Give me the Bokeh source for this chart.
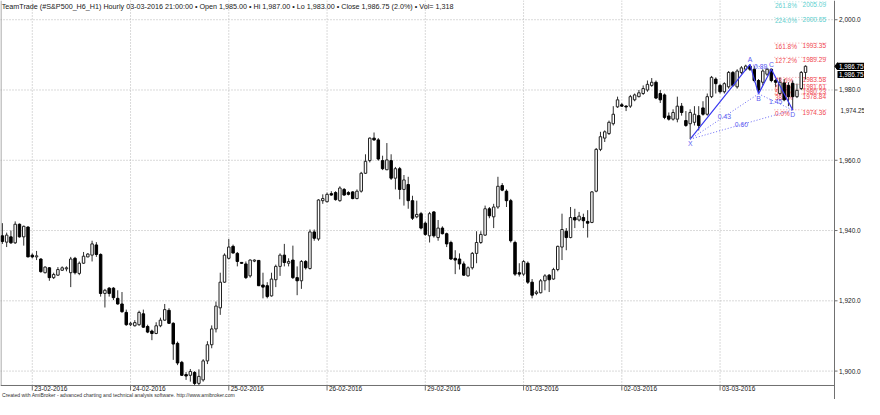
from bokeh.plotting import figure
from bokeh.models import ColumnDataSource, Range1d, Label
from bokeh.embed import file_html
from bokeh.resources import INLINE
from bokeh.core.properties import value

FONT = "Liberation Sans"

opens = [1938.5,1936.7,1938.2,1936.5,1941.8,1938.2,1941.0,1933.0,1932.5,1931.9,
         1928.0,1929.4,1926.6,1927.3,1928.7,1929.1,1928.0,1932.1,1927.8,1930.7,
         1932.5,1933.0,1935.9,1933.2,1922.1,1923.6,1923.6,1920.7,1919.1,1916.7,
         1913.2,1912.9,1913.2,1916.3,1912.7,1911.4,1910.7,1912.9,1914.5,1917.3,
         1913.6,1907.9,1902.5,1899.0,1898.8,1899.6,1896.5,1897.5,1902.9,1907.5,
         1912.0,1918.0,1925.3,1932.1,1935.5,1933.5,1930.9,1930.5,1927.1,1931.3,
         1931.5,1924.5,1924.3,1921.4,1926.0,1929.8,1933.0,1930.7,1931.6,1926.6,
         1925.7,1931.2,1929.2,1939.6,1937.6,1948.5,1948.2,1950.5,1950.8,1948.5,
         1951.7,1950.8,1951.0,1949.1,1951.2,1956.3,1959.9,1966.3,1965.8,1959.9,
         1957.3,1959.9,1954.9,1957.6,1951.7,1953.1,1948.5,1943.9,1944.8,1942.1,
         1938.5,1945.3,1938.0,1940.7,1939.1,1936.6,1932.1,1931.9,1930.5,1927.1,
         1929.4,1933.5,1936.6,1938.7,1946.2,1943.9,1946.7,1952.8,1951.2,1948.5,
         1936.6,1928.0,1927.6,1930.7,1925.3,1922.1,1922.3,1925.7,1927.3,1926.2,
         1928.9,1935.3,1939.8,1938.0,1943.7,1943.0,1943.7,1942.6,1942.3,1951.2,
         1963.1,1966.3,1967.6,1970.4,1975.2,1975.8,1975.4,1975.4,1977.2,1978.1,
         1979.0,1980.0,1981.3,1982.2,1979.0,1978.6,1972.6,1971.7,1971.7,1975.4,
         1971.3,1970.4,1970.8,1972.7,1974.9,1973.1,1978.1,1983.1,1981.3,1979.5,
         1980.9,1985.0,1980.9,1985.0,1985.9,1986.8,1985.9,1982.7,1982.2,1984.5,
         1985.9,1982.7,1979.0,1982.0,1981.3,1981.9,1978.1,1980.4,1985.0]
highs = [1942.1,1939.4,1940.0,1942.6,1942.0,1941.4,1941.2,1933.5,1934.2,1932.1,
         1929.8,1929.6,1928.0,1929.6,1929.8,1929.8,1932.5,1932.5,1931.2,1933.9,
         1933.6,1937.1,1936.7,1933.5,1923.4,1923.9,1923.9,1923.0,1922.5,1917.5,
         1914.0,1914.5,1917.2,1917.5,1913.2,1911.8,1913.9,1915.2,1919.1,1917.9,
         1913.9,1908.4,1902.9,1899.7,1900.6,1900.0,1900.5,1903.4,1908.5,1913.0,
         1919.8,1928.0,1933.5,1937.6,1936.0,1933.9,1931.0,1931.2,1931.8,1931.8,
         1931.6,1928.0,1925.3,1928.0,1930.3,1933.5,1936.2,1932.1,1935.7,1929.8,
         1931.6,1931.6,1940.3,1940.3,1948.9,1950.3,1950.8,1951.2,1951.2,1952.6,
         1952.1,1951.2,1951.2,1951.7,1956.7,1961.7,1966.5,1967.9,1966.3,1961.3,
         1964.9,1961.7,1958.1,1958.1,1955.8,1955.3,1949.9,1948.5,1945.3,1942.6,
         1945.3,1945.5,1943.0,1941.2,1939.4,1937.1,1934.4,1933.5,1931.2,1929.8,
         1933.9,1939.8,1939.8,1947.1,1946.7,1947.6,1955.3,1953.5,1951.7,1949.0,
         1937.1,1930.7,1931.6,1931.2,1926.2,1923.0,1926.2,1927.6,1927.6,1929.4,
         1935.7,1944.8,1940.7,1946.7,1946.2,1945.3,1944.8,1945.8,1951.2,1963.5,
         1968.1,1968.5,1971.3,1975.4,1978.1,1976.3,1975.6,1978.6,1979.0,1980.0,
         1981.3,1982.7,1983.4,1982.7,1980.0,1979.0,1973.6,1974.5,1978.1,1976.3,
         1974.0,1974.5,1975.4,1975.4,1976.8,1979.0,1984.0,1983.6,1981.8,1982.2,
         1985.4,1985.4,1985.9,1986.8,1987.2,1987.3,1986.8,1983.1,1985.9,1986.3,
         1986.1,1983.1,1983.6,1983.1,1982.2,1982.7,1981.8,1985.4,1987.0]
lows = [1936.2,1935.3,1936.2,1936.2,1938.0,1935.7,1932.4,1932.1,1931.6,1928.0,
        1927.8,1925.7,1926.2,1927.1,1928.5,1928.4,1923.9,1927.5,1927.3,1930.5,
        1932.4,1931.2,1932.5,1921.2,1918.1,1921.2,1920.2,1918.9,1916.6,1912.9,
        1912.8,1912.7,1912.9,1912.3,1910.8,1908.8,1910.5,1912.5,1914.3,1913.4,
        1903.2,1901.7,1898.6,1897.5,1897.0,1896.0,1896.0,1897.0,1902.0,1906.5,
        1911.0,1916.0,1925.1,1931.8,1933.5,1929.8,1930.5,1926.2,1926.6,1931.0,
        1924.2,1920.7,1920.7,1921.2,1923.9,1927.1,1929.8,1929.8,1926.2,1921.6,
        1923.4,1928.9,1928.9,1937.1,1937.1,1947.6,1948.0,1949.9,1948.5,1948.2,
        1949.9,1950.0,1948.9,1948.9,1950.8,1956.1,1959.4,1965.5,1959.9,1957.2,
        1957.2,1954.4,1951.7,1948.9,1947.1,1946.2,1943.0,1943.5,1940.3,1938.5,
        1936.6,1938.0,1937.1,1938.9,1935.3,1931.6,1927.6,1928.9,1927.1,1926.9,
        1928.9,1930.7,1936.2,1938.5,1943.5,1940.7,1946.2,1951.2,1946.7,1936.6,
        1927.1,1926.9,1927.1,1924.8,1920.7,1921.6,1922.1,1923.0,1922.5,1926.0,
        1928.4,1931.6,1934.4,1937.8,1940.7,1942.6,1940.7,1938.0,1942.1,1950.9,
        1962.6,1965.2,1967.2,1969.9,1974.9,1975.2,1974.0,1974.9,1976.8,1977.9,
        1978.6,1979.5,1980.9,1977.4,1976.3,1971.7,1971.3,1971.3,1970.8,1972.7,
        1969.5,1966.0,1969.9,1968.5,1972.7,1972.7,1977.7,1979.0,1979.0,1979.0,
        1980.4,1980.9,1980.4,1984.5,1985.4,1985.4,1982.2,1978.9,1981.3,1984.0,
        1982.2,1980.9,1978.6,1976.8,1975.4,1974.25,1977.7,1980.0,1983.0]
closes = [1936.9,1938.7,1936.5,1941.8,1938.2,1941.2,1932.5,1932.5,1932.8,1928.3,
          1929.6,1926.6,1927.5,1928.9,1929.4,1929.4,1931.9,1928.0,1930.7,1932.7,
          1933.3,1936.2,1933.2,1922.1,1923.0,1922.1,1920.9,1919.1,1916.9,1913.2,
          1913.6,1913.8,1916.7,1912.5,1911.1,1910.7,1912.9,1914.5,1917.5,1913.6,
          1907.7,1902.3,1898.8,1898.6,1899.9,1896.5,1898.5,1902.9,1907.5,1912.0,
          1918.5,1925.3,1933.0,1935.3,1933.6,1931.2,1930.7,1926.6,1931.6,1931.6,
          1924.3,1923.9,1921.2,1926.2,1929.8,1933.0,1930.9,1931.2,1926.6,1925.7,
          1931.2,1929.4,1939.6,1937.8,1948.7,1949.1,1950.3,1950.1,1948.8,1952.1,
          1950.1,1950.3,1949.1,1951.2,1956.3,1959.7,1966.3,1965.8,1960.35,1957.6,
          1960.1,1954.9,1957.6,1951.7,1954.4,1948.5,1943.5,1944.6,1940.7,1938.9,
          1944.8,1938.5,1940.7,1939.1,1936.2,1931.9,1931.6,1930.5,1927.3,1929.4,
          1933.5,1936.6,1938.9,1946.2,1944.2,1946.7,1952.6,1951.5,1948.5,1937.1,
          1927.6,1927.6,1931.2,1925.3,1921.6,1922.5,1925.7,1927.1,1926.0,1928.9,
          1935.5,1940.3,1938.0,1943.7,1943.0,1944.1,1942.8,1942.1,1951.0,1963.1,
          1966.7,1968.1,1970.8,1973.1,1977.2,1975.4,1975.2,1978.1,1978.6,1979.2,
          1980.4,1981.6,1982.2,1977.7,1977.2,1972.2,1971.7,1973.6,1975.4,1973.6,
          1969.9,1973.6,1973.1,1969.9,1973.1,1978.1,1983.6,1981.8,1979.5,1981.8,
          1985.0,1981.3,1985.4,1986.3,1986.8,1985.9,1982.7,1980.0,1985.4,1985.9,
          1982.7,1982.2,1982.2,1977.2,1978.1,1978.1,1979.9,1985.0,1986.75]

day_start_bars = [7, 30, 53, 76, 99, 122, 145, 168]
day_labels = ["23-02-2016", "24-02-2016", "25-02-2016", "26-02-2016",
              "29-02-2016", "01-03-2016", "02-03-2016", "03-03-2016"]
price_ticks = [1900, 1920, 1940, 1960, 1980, 2000]
last_close = 1986.75
marker_low = 1974.25

pattern_names = ["X", "A", "B", "C", "D"]
pattern_bars = [161, 175, 177, 180, 185]
pattern_prices = [1966.0, 1987.3, 1978.9, 1985.9, 1974.3]
ratio_labels = ["0.43", "0.89", "1.45", "0.60"]

fib_pct = ["261.8%", "224.0%", "161.8%", "127.2%", "78.6%", "61.8%", "50.0%", "38.2%", "0.0%"]
fib_val = [2005.09, 2000.65, 1993.35, 1989.29, 1983.58, 1981.61, 1980.23, 1978.84, 1974.36]
fib_col = ["#5fd0d0", "#5fd0d0"] + ["#f0474f"] * 7

title_text = ("TeamTrade (#S&P500_H6_H1) Hourly  03-03-2016 21:00:00  \u2022  Open 1,985.00  \u2022  "
              "Hi 1,987.00  \u2022  Lo 1,983.00  \u2022  Close 1,986.75 (2.0%)  \u2022  Vol= 1,318")
credits = "Created with AmiBroker - advanced charting and technical analysis software. http://www.amibroker.com"

n = len(opens)
idx = list(range(n))

# scale layout (data units)
PX_PER_BAR = 4.272
PX_PER_PT = 3.5137
X0 = -0.44
AXIS_X = X0 + 834 / PX_PER_BAR
X1 = X0 + 864 / PX_PER_BAR
Y_AXIS = 1895.9
Y1 = 2005.47
Y0 = Y_AXIS - 14 / PX_PER_PT
AX = "#707070"
GRID = "#b4b4b4"
FS = "6.5px"

p = figure(width=864, height=399, output_backend="svg", toolbar_location=None,
           x_range=Range1d(X0, X1), y_range=Range1d(Y0, Y1),
           x_axis_location=None, y_axis_location=None,
           min_border_left=0, min_border_top=0, min_border_right=0, min_border_bottom=0)
p.background_fill_color = "white"
p.border_fill_color = "white"
p.outline_line_color = None
for g in list(p.xgrid) + list(p.ygrid):
    g.visible = False

# grids
nd = len(day_start_bars)
nt = len(price_ticks)
p.segment(x0=day_start_bars, y0=[Y_AXIS] * nd, x1=day_start_bars, y1=[Y1] * nd,
          line_color=GRID, line_dash="1 2", line_width=1)
p.segment(x0=[X0] * nt, y0=price_ticks, x1=[AXIS_X] * nt, y1=price_ticks,
          line_color=GRID, line_dash="1 2", line_width=1)

# frame lines: left border, bottom time axis, right price axis
p.segment(x0=[X0 + 0.12], y0=[Y_AXIS], x1=[X0 + 0.12], y1=[Y1], line_color="#909090", line_width=1)
p.segment(x0=[X0], y0=[Y_AXIS], x1=[AXIS_X], y1=[Y_AXIS], line_color=AX, line_width=1)
p.segment(x0=[AXIS_X], y0=[Y0], x1=[AXIS_X], y1=[Y1], line_color=AX, line_width=1)

# time axis: day ticks and labels to their right
p.segment(x0=day_start_bars, y0=[Y_AXIS] * nd, x1=day_start_bars, y1=[Y_AXIS - 5 / PX_PER_PT] * nd,
          line_color=AX, line_width=1)
p.text(x=[b + 0.45 for b in day_start_bars], y=[Y_AXIS - 3.4 / PX_PER_PT] * nd, text=day_labels,
       text_baseline="middle", text_font=value(FONT), text_font_size=FS, text_color="#202020")
p.text(x=[X0 + 0.35], y=[Y_AXIS - 9.6 / PX_PER_PT], text=[credits], text_baseline="middle",
       text_font=value(FONT), text_font_size="5.1px", text_color="#303030")

# price axis ticks and labels
p.segment(x0=[AXIS_X] * nt, y0=price_ticks, x1=[AXIS_X + 3 / PX_PER_BAR] * nt, y1=price_ticks,
          line_color=AX, line_width=1)
p.text(x=[AXIS_X + 4.5 / PX_PER_BAR] * nt, y=price_ticks, text=["{:,.1f}".format(v) for v in price_ticks],
       text_baseline="middle", text_font=value(FONT), text_font_size=FS, text_color="#202020")

# fib levels (behind candles)
fx0, fx1 = 180.7, 193.3
fsrc = ColumnDataSource(dict(x0=[fx0] * len(fib_val), x1=[fx1] * len(fib_val), y=fib_val,
                             pct=fib_pct, val=["%.2f" % v for v in fib_val], col=fib_col,
                             lc=["#a8e4e4", "#a8e4e4"] + ["#f5a0a0"] * 7))
p.segment(x0="x0", y0="y", x1="x1", y1="y", source=fsrc, line_color="lc", line_dash="1 2", line_width=1)
p.text(x=fx0 + 0.15, y="y", text="pct", source=fsrc, text_color="col", text_baseline="top",
       text_font=value(FONT), text_font_size=FS)
p.text(x=187.3, y="y", text="val", source=fsrc, text_color="col", text_baseline="top",
       text_font=value(FONT), text_font_size=FS)

# candles
up_x, up_t, up_b, dn_x, dn_t, dn_b = [], [], [], [], [], []
for i, (o, c) in enumerate(zip(opens, closes)):
    t, b = max(o, c), min(o, c)
    if t - b < 0.25:
        t, b = (t + b) / 2 + 0.13, (t + b) / 2 - 0.13
    if c >= o:
        up_x.append(i); up_t.append(t); up_b.append(b)
    else:
        dn_x.append(i); dn_t.append(t); dn_b.append(b)
p.segment(x0=idx, y0=lows, x1=idx, y1=highs, line_color="#303030", line_width=1)
p.vbar(x=up_x, top=up_t, bottom=up_b, width=0.58, fill_color="white", line_color="#202020", line_width=1)
p.vbar(x=dn_x, top=dn_t, bottom=dn_b, width=0.58, fill_color="black", line_color="black", line_width=1)

# harmonic pattern
blue = "#3a3af0"
p.line(pattern_bars, pattern_prices, line_color=blue, line_width=1.2)
pairs = [(0, 2), (1, 3), (2, 4), (0, 4)]
for (a, b), lab in zip(pairs, ratio_labels):
    p.line([pattern_bars[a], pattern_bars[b]], [pattern_prices[a], pattern_prices[b]],
           line_color="#6a6af5", line_dash="1 2", line_width=1)
    mx = (pattern_bars[a] + pattern_bars[b]) / 2
    my = (pattern_prices[a] + pattern_prices[b]) / 2
    p.text(x=[mx], y=[my], text=[lab], text_color="#5a5af0", text_align="center",
           text_baseline="middle", text_font=value(FONT), text_font_size="6.8px")
offs = [-1, 1, -1, 1, -1]
for nm, bx, py, o in zip(pattern_names, pattern_bars, pattern_prices, offs):
    p.text(x=[bx], y=[py], text=[nm], text_color="#5a5af0", text_align="center",
           text_baseline="bottom" if o > 0 else "top", y_offset=-1 if o > 0 else 1,
           text_font=value(FONT), text_font_size="6.8px")

# title inside chart
p.add_layout(Label(x=X0 + 0.3, y=Y1 - 0.3, text=title_text, text_baseline="top",
                   text_font=FONT, text_font_size="7.2px", text_color="#202020"))

# right side price markers (last close shown twice as in the reference) and recent low
second = last_close - 8.2 / PX_PER_PT
bh = 3.6 / PX_PER_PT
bx0 = AXIS_X + 3 / PX_PER_BAR
p.patch([AXIS_X + 0.4 / PX_PER_BAR, bx0, bx0], [last_close, last_close + bh, last_close - bh],
        fill_color="black", line_color="black")
p.quad(left=[bx0, bx0], right=[X1, X1], top=[last_close + bh, second + bh],
       bottom=[last_close - bh, second - bh], fill_color="black", line_color=None)
p.text(x=[AXIS_X + 4.5 / PX_PER_BAR] * 2, y=[last_close, second], text=["{:,.2f}".format(last_close)] * 2,
       text_baseline="middle", text_font=value(FONT), text_font_size="6.3px", text_color="white")
p.text(x=[AXIS_X + 6 / PX_PER_BAR], y=[marker_low], text=["{:,.2f}".format(marker_low)],
       text_baseline="middle", text_font=value(FONT), text_font_size="6.3px", text_color="#202020")

open("out.html", "w").write(file_html(p, INLINE))
